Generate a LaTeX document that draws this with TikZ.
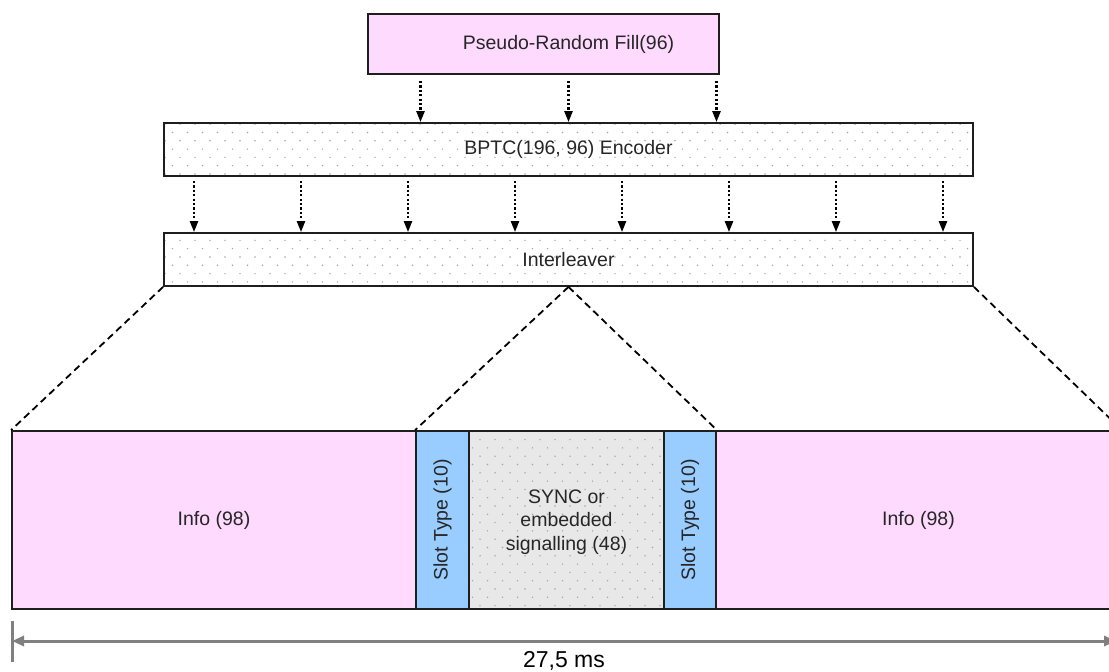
\documentclass[tikz,border=0pt]{standalone}
\usepackage{fontspec}
\setmainfont{Liberation Sans}
\usepackage{tikz}
\usetikzlibrary{arrows.meta,positioning,calc,patterns.meta}
\definecolor{FRpink}{RGB}{255,218,255}
\definecolor{FRblue}{RGB}{153,204,255}
\definecolor{FRgrey}{RGB}{232,232,232}
\definecolor{FRdim}{RGB}{128,128,128}
\definecolor{FRline}{RGB}{30,30,30}

\tikzdeclarepattern{
  name=sparsedots,
  type=uncolored,
  bottom left={(-1pt,-1pt)},
  top right={(14pt,16pt)},
  tile size={(15pt,16.6pt)},
  code={\fill (0pt,0pt) circle (0.8pt); \fill (7.5pt,8.3pt) circle (0.8pt);}
}

\begin{document}
\begin{tikzpicture}[x=1pt,y=-1pt,
    boxtext/.style={font=\fontsize{19.5}{23.4}\selectfont,text=black!85},
    box/.style={draw=FRline,line width=1.8pt,inner sep=0pt,boxtext},
    dotbox/.style={box,preaction={fill=white},pattern=sparsedots,pattern color=black!35},
    flow/.style={line width=2.3pt,dash pattern=on 2.2pt off 2.2pt,
      -{Triangle[length=11pt,width=8pt]}},
    zoomline/.style={line width=1.8pt,dash pattern=on 7pt off 4.5pt},
    dimline/.style={FRdim,line width=3pt}]
    \useasboundingbox (0,0) rectangle (1109,672);
    % coding chain
    \node[box,fill=FRpink,minimum width=351,minimum height=60] (fill) at (543.5,44) {};
    \node[dotbox,minimum width=809,minimum height=53] (bptc) at (568.5,149.5) {BPTC(196, 96) Encoder};
    \node[boxtext] (filltext) at (bptc.center |- fill.center) {Pseudo-Random Fill(96)};
    \node[dotbox,minimum width=809,minimum height=53] (ilv) at (568.5,259.5) {Interleaver};
    \foreach \d in {-148,0,148}{
      \coordinate (t) at ($(bptc.north)+(\d,0)$);
      \draw[flow,shorten <=6pt] (t |- fill.south) -- (t);
    }
    \foreach \i in {0,...,7}{
      \coordinate (t) at ($(ilv.north)+({(\i-3.5)*107},0)$);
      \draw[flow,shorten <=4pt] (t |- bptc.south) -- (t);
    }
    % burst
    \node[box,fill=FRpink,minimum width=404,minimum height=178] (info1) at (214,520) {Info (98)};
    \node[box,fill=FRblue,rotate=90,minimum width=178,minimum height=53] (slot1) at (442.5,520) {Slot Type (10)};
    \node[box,preaction={fill=FRgrey},pattern=sparsedots,pattern color=black!35,
      minimum width=195,minimum height=178] (sync) at (566.5,520) {};
    \node[boxtext,align=center] (synctext) at (566.5,522) {SYNC or\\embedded\\signalling (48)};
    \node[box,fill=FRblue,rotate=90,minimum width=178,minimum height=52] (slot2) at (690,520) {Slot Type (10)};
    \node[box,fill=FRpink,minimum width=405,minimum height=178] (info2) at (918.5,520) {Info (98)};
    \draw[zoomline] (ilv.south west) -- (info1.north west);
    \draw[zoomline] (ilv.south east) -- (info2.north east);
    \draw[zoomline] (ilv.south) -- (slot1.north east);
    \draw[zoomline] (ilv.south) -- (slot2.south east);
    % duration
    \coordinate (dimL) at (12,641);
    \coordinate (dimR) at (1116,641);
    \draw[dimline] ($(dimL)+(0,-20)$) -- ($(dimL)+(0,21)$);
    \draw[dimline,{Triangle[length=12pt,width=10pt]}-{Triangle[length=12pt,width=10pt]}] (dimL) -- (dimR);
    \node[anchor=base,inner sep=0pt,text=black,font=\fontsize{23}{27}\selectfont] (dur)
      at ($(dimL)!0.5!(dimR)+(0,26)$) {27,5 ms};
\end{tikzpicture}
\end{document}
